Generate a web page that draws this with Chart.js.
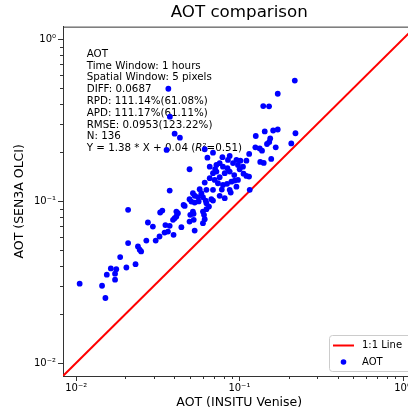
<!DOCTYPE html>
<html><head><meta charset="utf-8">
<style>html,body{margin:0;padding:0;overflow:hidden;background:#fff;width:408px;height:412px}canvas{display:block}</style>
<script src="https://cdn.jsdelivr.net/npm/chart.js@4"></script>
</head><body>
<canvas id="c" width="420" height="412"></canvas>
<script>
const xValues = [0.0105,0.0144,0.0151,0.0154,0.0163,0.0173,0.0173,0.0176,0.0186,0.0203,
0.0231,0.0208,0.0208,0.0239,0.0245,0.0250,0.0269,0.0307,0.0324,0.0275,
0.0295,0.0327,0.0337,0.0348,0.0365,0.0374,0.0395,0.0392,0.0411,0.0420,
0.0401,0.0441,0.0495,0.0532,0.0455,0.0500,0.0524,0.0508,0.0532,0.0557,
0.0374,0.0613,0.0689,0.0872,0.0959,0.1014,0.0914,0.098,0.0495,0.0658,
0.0723,0.0757,0.0793,0.0689,0.0723,0.0813,0.0872,0.1004,0.1052,0.1146,
0.0658,0.0706,0.0757,0.0739,0.0793,0.0893,0.0935,0.0959,0.0613,0.0628,
0.0571,0.0585,0.0689,0.1157,0.0872,0.0885,0.0757,0.0519,0.0495,0.0598,
0.0621,0.0689,0.0532,0.0845,0.0411,0.0462,0.0628,0.0598,0.0651,0.0519,
0.0525,0.0598,0.0613,0.2185,0.1718,0.140,0.152,0.0367,0.0375,0.0401,
0.0432,0.0358,0.126,0.143,0.161,0.1718,0.1545,0.1524,0.2206,0.208,
0.167,0.1476,0.1253,0.1332,0.1376,0.1148,0.1567,0.1342,0.141,0.0637,
0.0787,0.0851,0.1104,0.1104,0.098,0.0673,0.0813,0.0563,0.0628,0.0352,
0.0607,0.0930,0.1060,0.0780,0.0840,0.0710];
const yValues = [0.0309,0.0300,0.0252,0.0351,0.0384,0.0356,0.0327,0.0380,0.0451,0.0389,
0.0408,0.0551,0.0884,0.0525,0.0501,0.0489,0.0571,0.0571,0.0605,0.0738,
0.0697,0.0851,0.0875,0.0640,0.0649,0.0704,0.0619,0.0767,0.0804,0.0843,
0.0785,0.0691,0.0748,0.0658,0.0948,0.0823,0.0835,0.0994,0.108,0.106,
0.1163,0.2094,0.1995,0.1905,0.180,0.178,0.172,0.1675,0.1576,0.1635,
0.1675,0.1717,0.1635,0.149,0.1524,0.149,0.1524,0.1576,0.1635,0.142,
0.1387,0.1354,0.1406,0.1291,0.1261,0.1321,0.134,0.123,0.1303,0.1175,
0.1186,0.112,0.1175,0.1175,0.1175,0.113,0.1079,0.112,0.1029,0.1059,
0.1009,0.1009,0.098,0.160,0.0863,0.0935,0.0893,0.0863,0.0926,0.0863,
0.0767,0.0731,0.0774,0.557,0.4616,0.3875,0.386,0.4955,0.333,0.2614,
0.247,0.2074,0.253,0.270,0.2735,0.2774,0.2442,0.2323,0.263,0.2274,
0.2154,0.2257,0.2154,0.2118,0.2052,0.1959,0.1824,0.1748,0.1723,0.1858,
0.187,0.180,0.178,0.1433,0.1354,0.1029,0.1044,0.0997,0.0972,0.0712,
0.0823,0.145,0.148,0.118,0.128,0.1580];
const lineValues = [0.0083, 1.2];
const axisMin = 0.0083, axisMax = 1.2;
const majorTicks = [0.01, 0.1, 1];
const majorLabels = ['10\u207B\u00B2', '10\u207B\u00B9', '10\u2070'];
const minorTicks = [0.02,0.03,0.04,0.05,0.06,0.07,0.08,0.09,0.2,0.3,0.4,0.5,0.6,0.7,0.8,0.9];
const statsLines = ['AOT','Time Window: 1 hours','Spatial Window: 5 pixels','DIFF: 0.0687',
  'RPD: 111.14%(61.08%)','APD: 111.17%(61.11%)','RMSE: 0.0953(123.22%)','N: 136'];
const fitText = ['Y = 1.38 * X + 0.04 (', 'R', '\u00B2=0.51)'];
const legendLabels = ['1:1 Line', 'AOT'];
const FONT = "'DejaVu Sans', sans-serif";

const allTicks = majorTicks.concat(minorTicks).sort((a,b)=>a-b);

const overlay = {
  id: 'overlay',
  beforeDatasetsDraw(chart) {
    const ctx = chart.ctx, a = chart.chartArea;
    ctx.save();
    ctx.fillStyle = '#000';
    ctx.font = '10.3px ' + FONT;
    ctx.textBaseline = 'middle';
    ctx.textAlign = 'left';
    const x0 = a.left + 23.7;
    let y = a.top + 27.5;
    statsLines.forEach(t => { ctx.fillText(t, x0, y); y += 11.8; });
    let x = x0;
    ctx.fillText(fitText[0], x, y); x += ctx.measureText(fitText[0]).width;
    ctx.font = 'italic 10.3px ' + FONT;
    ctx.fillText(fitText[1], x, y); x += ctx.measureText(fitText[1]).width;
    ctx.font = '10.3px ' + FONT;
    ctx.fillText(fitText[2], x, y);
    ctx.restore();
  },
  afterDraw(chart) {
    const ctx = chart.ctx, a = chart.chartArea;
    const xs = chart.scales.x, ys = chart.scales.y;
    ctx.save();
    ctx.strokeStyle = '#333';
    ctx.lineWidth = 1;
    ctx.beginPath();
    ctx.moveTo(a.left, a.top + 0.5); ctx.lineTo(a.right, a.top + 0.5);
    ctx.moveTo(a.right - 0.5, a.top); ctx.lineTo(a.right - 0.5, a.bottom);
    allTicks.forEach(v => {
      const len = majorTicks.includes(v) ? 5 : 3;
      const px = Math.round(xs.getPixelForValue(v)) + 0.5;
      if (px >= a.left && px <= a.right) { ctx.moveTo(px, a.bottom); ctx.lineTo(px, a.bottom + len); }
      const py = Math.round(ys.getPixelForValue(v)) + 0.5;
      if (py >= a.top && py <= a.bottom) { ctx.moveTo(a.left, py); ctx.lineTo(a.left - len, py); }
    });
    ctx.stroke();
    // legend
    const bx = 329.5, by = 335.5, bw = 90, bh = 36;
    ctx.beginPath();
    ctx.roundRect(bx, by, bw, bh, 3);
    ctx.fillStyle = 'rgba(255,255,255,0.8)';
    ctx.fill();
    ctx.strokeStyle = '#cccccc';
    ctx.stroke();
    ctx.beginPath();
    ctx.strokeStyle = '#ff0000';
    ctx.lineWidth = 2;
    ctx.moveTo(333, 345.5); ctx.lineTo(354, 345.5);
    ctx.stroke();
    ctx.beginPath();
    ctx.fillStyle = '#0000ff';
    ctx.arc(343.5, 362, 2.8, 0, Math.PI * 2);
    ctx.fill();
    ctx.fillStyle = '#000';
    ctx.font = '10px ' + FONT;
    ctx.textBaseline = 'middle';
    ctx.fillText(legendLabels[0], 362, 345.5);
    ctx.fillText(legendLabels[1], 362, 362);
    ctx.restore();
  }
};

const tickCfg = {
  autoSkip: false, maxRotation: 0, color: '#000', padding: 6,
  font: { family: FONT, size: 10 },
  callback: (v) => { const i = majorTicks.indexOf(v); return i >= 0 ? majorLabels[i] : ''; }
};

new Chart(document.getElementById('c'), {
  type: 'scatter',
  data: {
    datasets: [
      { label: legendLabels[1], data: xValues.map((x, i) => ({ x, y: yValues[i] })),
        backgroundColor: '#0000ff', borderWidth: 0, pointRadius: 2.9, pointHoverRadius: 2.9 },
      { label: legendLabels[0], type: 'line', showLine: true,
        data: lineValues.map(v => ({ x: v, y: v })),
        borderColor: '#ff0000', borderWidth: 2, pointRadius: 0, fill: false }
    ]
  },
  options: {
    responsive: false, animation: false, devicePixelRatio: 1,
    layout: { padding: { left: 0, right: 4.5, top: 0, bottom: 0 } },
    plugins: {
      legend: { display: false }, tooltip: { enabled: false },
      title: { display: true, text: 'AOT comparison', fullSize: false, color: '#000',
        font: { family: FONT, size: 16.7, weight: 'normal' }, padding: { top: 3, bottom: 3.6 } }
    },
    scales: {
      x: { type: 'logarithmic', min: axisMin, max: axisMax, bounds: 'data',
        grid: { display: false, drawTicks: false },
        border: { display: true, color: '#333', width: 1 },
        ticks: tickCfg,
        afterBuildTicks: (s) => { s.ticks = allTicks.map(v => ({ value: v })); },
        afterFit: (s) => { s.height = 36; },
        title: { display: true, text: 'AOT (INSITU Venise)', color: '#000',
          font: { family: FONT, size: 12.5 }, padding: { top: 0, bottom: 1.5 } } },
      y: { type: 'logarithmic', min: axisMin, max: axisMax, bounds: 'data',
        grid: { display: false, drawTicks: false },
        border: { display: true, color: '#333', width: 1 },
        ticks: Object.assign({}, tickCfg, { padding: 7 }),
        afterBuildTicks: (s) => { s.ticks = allTicks.map(v => ({ value: v })); },
        afterFit: (s) => { s.width = 63; },
        title: { display: true, text: 'AOT (SEN3A OLCI)', color: '#000',
          font: { family: FONT, size: 12.5 }, padding: { top: 12.5, bottom: 0 } } }
    }
  },
  plugins: [overlay]
});
</script>
</body></html>
